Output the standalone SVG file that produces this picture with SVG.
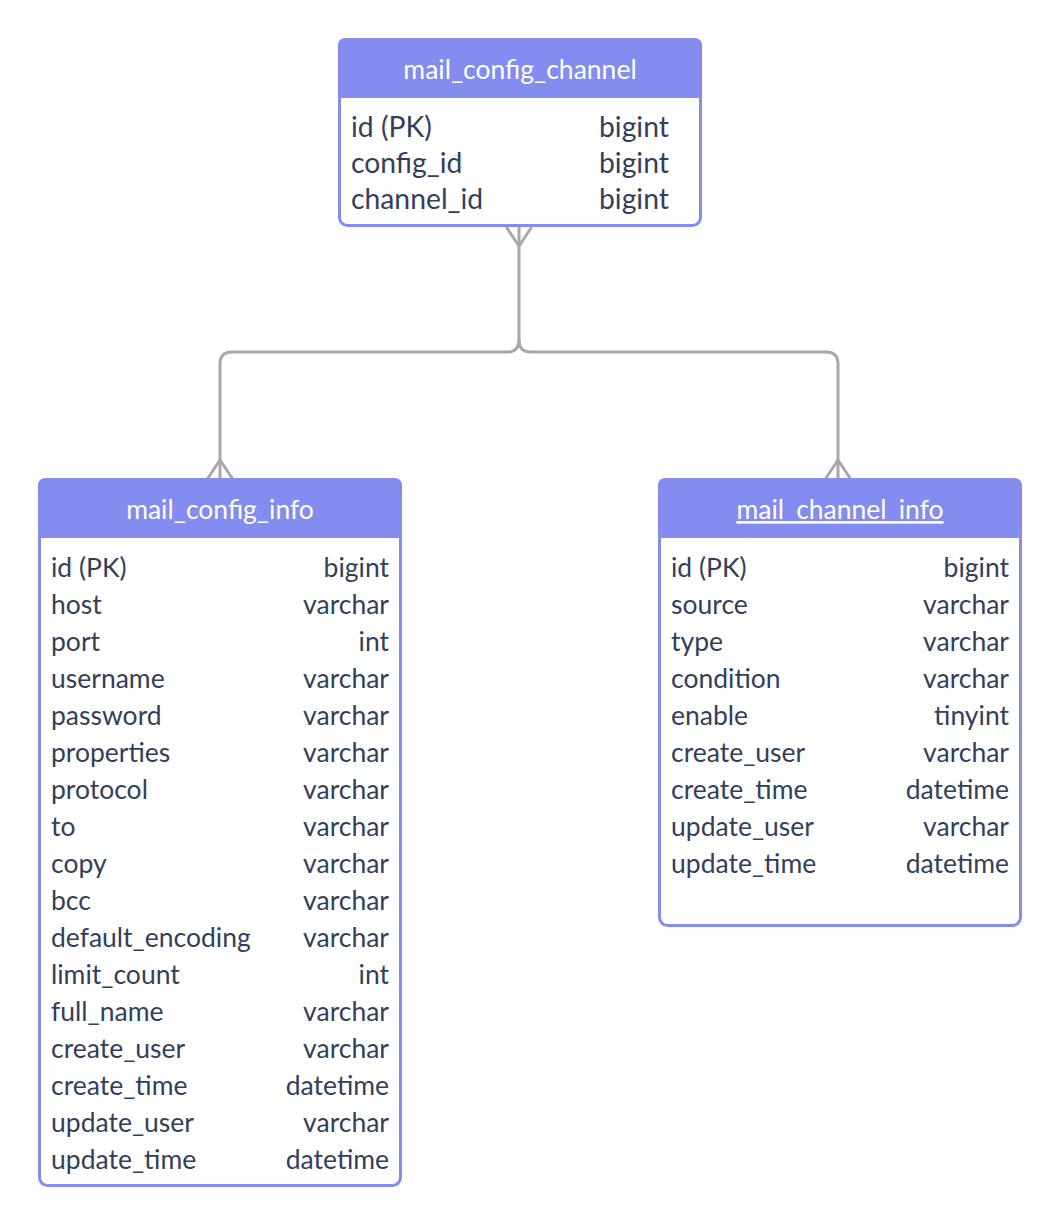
<svg xmlns="http://www.w3.org/2000/svg" width="1060" height="1226" viewBox="0 0 1060 1226">
<style>
.box{fill:#ffffff;stroke:#848cf0;stroke-width:3}
.hdr{fill:#848cf0}
.title{font-family:Lato,"Open Sans",sans-serif;font-size:26.5px;fill:#ffffff;text-anchor:middle}
.f{font-family:Lato,"Open Sans",sans-serif;font-size:26.5px;fill:#333f5a}
.t{font-family:Lato,"Open Sans",sans-serif;font-size:26.5px;fill:#333f5a;text-anchor:end}
.g{font-family:Lato,"Open Sans",sans-serif;font-size:28.3px;fill:#333f5a}
.c{fill:none;stroke:#a8a8a8;stroke-width:3;stroke-linecap:round;stroke-linejoin:round}
</style>
<rect width="1060" height="1226" fill="#ffffff"/>
<g id="connectors">
<path class="c" d="M519 227 V340 Q519 352 507 352 H232 Q220 352 220 364 V479"/>
<path class="c" d="M519 340 Q519 352 531 352 H826 Q838 352 838 364 V479"/>
<path class="c" d="M507 228 L519 246 L531 228"/>
<path class="c" d="M208 478 L220 460 L232 478"/>
<path class="c" d="M826 478 L838 460 L850 478"/>
</g>
<g id="mail_config_channel">
<rect class="box" x="339.5" y="39.5" width="361" height="186" rx="8"/>
<path class="hdr" d="M338 98 V46 Q338 38 346 38 H694 Q702 38 702 46 V98 Z"/>
<text class="title" x="520" y="79">mail_config_channel</text>
<text class="g" x="351" y="137">id (PK)</text><text class="g" x="599" y="137">bigint</text>
<text class="g" x="351" y="173">config_id</text><text class="g" x="599" y="173">bigint</text>
<text class="g" x="351" y="209">channel_id</text><text class="g" x="599" y="209">bigint</text>
</g>
<g id="mail_config_info">
<rect class="box" x="39.5" y="479.5" width="361" height="706" rx="8"/>
<path class="hdr" d="M38 538 V486 Q38 478 46 478 H394 Q402 478 402 486 V538 Z"/>
<text class="title" x="220" y="519">mail_config_info</text>
<text class="f" x="51" y="577">id (PK)</text><text class="t" x="389" y="577">bigint</text>
<text class="f" x="51" y="614">host</text><text class="t" x="389" y="614">varchar</text>
<text class="f" x="51" y="651">port</text><text class="t" x="389" y="651">int</text>
<text class="f" x="51" y="688">username</text><text class="t" x="389" y="688">varchar</text>
<text class="f" x="51" y="725">password</text><text class="t" x="389" y="725">varchar</text>
<text class="f" x="51" y="762">properties</text><text class="t" x="389" y="762">varchar</text>
<text class="f" x="51" y="799">protocol</text><text class="t" x="389" y="799">varchar</text>
<text class="f" x="51" y="836">to</text><text class="t" x="389" y="836">varchar</text>
<text class="f" x="51" y="873">copy</text><text class="t" x="389" y="873">varchar</text>
<text class="f" x="51" y="910">bcc</text><text class="t" x="389" y="910">varchar</text>
<text class="f" x="51" y="947">default_encoding</text><text class="t" x="389" y="947">varchar</text>
<text class="f" x="51" y="984">limit_count</text><text class="t" x="389" y="984">int</text>
<text class="f" x="51" y="1021">full_name</text><text class="t" x="389" y="1021">varchar</text>
<text class="f" x="51" y="1058">create_user</text><text class="t" x="389" y="1058">varchar</text>
<text class="f" x="51" y="1095">create_time</text><text class="t" x="389" y="1095">datetime</text>
<text class="f" x="51" y="1132">update_user</text><text class="t" x="389" y="1132">varchar</text>
<text class="f" x="51" y="1169">update_time</text><text class="t" x="389" y="1169">datetime</text>
</g>
<g id="mail_channel_info">
<rect class="box" x="659.5" y="479.5" width="361" height="446" rx="8"/>
<path class="hdr" d="M658 538 V486 Q658 478 666 478 H1014 Q1022 478 1022 486 V538 Z"/>
<text class="title" x="840" y="519" text-decoration="underline">mail_channel_info</text>
<text class="f" x="671" y="577">id (PK)</text><text class="t" x="1009" y="577">bigint</text>
<text class="f" x="671" y="614">source</text><text class="t" x="1009" y="614">varchar</text>
<text class="f" x="671" y="651">type</text><text class="t" x="1009" y="651">varchar</text>
<text class="f" x="671" y="688">condition</text><text class="t" x="1009" y="688">varchar</text>
<text class="f" x="671" y="725">enable</text><text class="t" x="1009" y="725">tinyint</text>
<text class="f" x="671" y="762">create_user</text><text class="t" x="1009" y="762">varchar</text>
<text class="f" x="671" y="799">create_time</text><text class="t" x="1009" y="799">datetime</text>
<text class="f" x="671" y="836">update_user</text><text class="t" x="1009" y="836">varchar</text>
<text class="f" x="671" y="873">update_time</text><text class="t" x="1009" y="873">datetime</text>
</g>
</svg>
